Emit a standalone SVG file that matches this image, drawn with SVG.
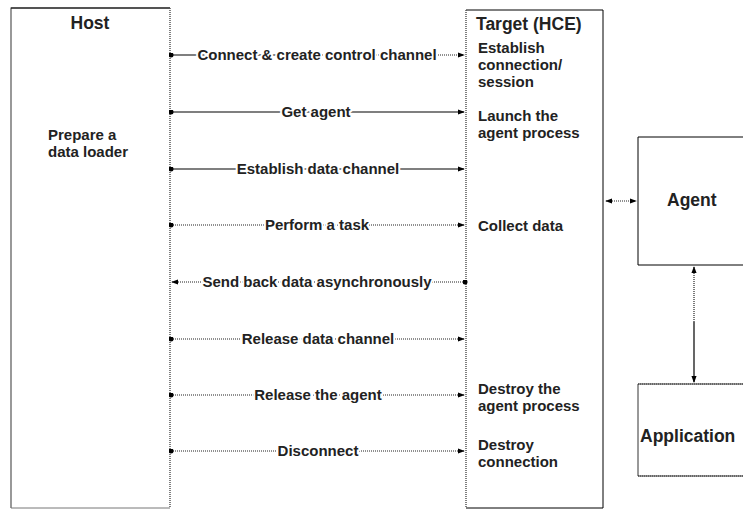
<svg xmlns="http://www.w3.org/2000/svg" width="743" height="509" viewBox="0 0 743 509">
<defs>
<style>
text{font-family:"Liberation Sans",Arial,sans-serif;font-weight:bold;font-size:15px;fill:#222}
.t{font-size:17.5px}
.lbl{text-anchor:middle;stroke:#fff;stroke-width:4px;paint-order:stroke;stroke-linejoin:round}
.solid{stroke:#000;stroke-width:1.2;fill:none}
.dot{stroke:#222;stroke-width:1.2;stroke-dasharray:1 1;fill:none}
.box{fill:#fff;stroke:#000;stroke-width:1}
</style>
<marker id="ah" viewBox="0 0 8 8" refX="7" refY="4" markerWidth="7" markerHeight="7" markerUnits="userSpaceOnUse" orient="auto-start-reverse"><path d="M0,1 L8,4 L0,7 z" fill="#000"/></marker>
<marker id="dt" viewBox="0 0 6 6" refX="3" refY="3" markerWidth="5" markerHeight="5" markerUnits="userSpaceOnUse"><circle cx="3" cy="3" r="3" fill="#000"/></marker>
</defs>
<rect width="743" height="509" fill="#fff"/>
<g id="host">
<path d="M11,508 V8 H170" fill="none" stroke="#555" stroke-width="1.2"/>
<path d="M11,8 H170" fill="none" stroke="#000" stroke-width="1.2"/>
<path d="M11,508 H170" fill="none" stroke="#777" stroke-width="1"/>
<line x1="170" y1="8" x2="170" y2="508" stroke="#555" stroke-width="1.5" stroke-dasharray="1 1"/>
<text class="t" x="90" y="29" text-anchor="middle">Host</text>
<text x="48" y="140">Prepare a</text>
<text x="48" y="157">data loader</text>
</g>
<g id="target">
<path d="M466,10 H603 V508 H466" fill="none" stroke="#000" stroke-width="1"/>
<line x1="466" y1="10" x2="466" y2="508" stroke="#555" stroke-width="1.5" stroke-dasharray="1 1"/>
<text class="t" x="476" y="30">Target (HCE)</text>
<text x="478" y="53">Establish</text>
<text x="478" y="70">connection/</text>
<text x="478" y="87">session</text>
<text x="478" y="121">Launch the</text>
<text x="478" y="138">agent process</text>
<text x="478" y="231">Collect data</text>
<text x="478" y="394">Destroy the</text>
<text x="478" y="411">agent process</text>
<text x="478" y="450">Destroy</text>
<text x="478" y="467">connection</text>
</g>
<g id="agent">
<path d="M743,137 H638 V265 H743" class="box"/>
<text class="t" x="667" y="206">Agent</text>
</g>
<g id="application">
<path d="M743,384 H638 V476 H743" fill="#fff" stroke="#333" stroke-width="1"/>
<path d="M638,384 H743 M638,476 H743" stroke="#333" stroke-width="1" stroke-dasharray="1 1"/>
<text class="t" x="640" y="442">Application</text>
</g>
<g id="connectors">
<path d="M171,55 H300" class="solid" marker-start="url(#dt)"/>
<path d="M300,55 H464" class="dot" marker-end="url(#ah)"/>
<text class="lbl" x="317" y="60">Connect &amp; create control channel</text>
<path d="M171,112 H464" class="solid" marker-start="url(#dt)" marker-end="url(#ah)"/>
<text class="lbl" x="316" y="117">Get agent</text>
<path d="M171,169 H464" class="solid" marker-start="url(#dt)" marker-end="url(#ah)"/>
<text class="lbl" x="318" y="174">Establish data channel</text>
<path d="M171,225 H464" class="dot" marker-start="url(#dt)" marker-end="url(#ah)"/>
<text class="lbl" x="317" y="230">Perform a task</text>
<path d="M465,282 H172" class="dot" marker-start="url(#dt)" marker-end="url(#ah)"/>
<text class="lbl" x="317" y="287">Send back data asynchronously</text>
<path d="M171,339 H464" class="dot" marker-start="url(#dt)" marker-end="url(#ah)"/>
<text class="lbl" x="318" y="344">Release data channel</text>
<path d="M171,395 H464" class="dot" marker-start="url(#dt)" marker-end="url(#ah)"/>
<text class="lbl" x="318" y="400">Release the agent</text>
<path d="M171,451 H464" class="dot" marker-start="url(#dt)" marker-end="url(#ah)"/>
<text class="lbl" x="318" y="456">Disconnect</text>
<path d="M606,201 H636" class="dot" marker-start="url(#ah)" marker-end="url(#ah)"/>
<path d="M694,267 V322" class="dot" marker-start="url(#ah)"/>
<path d="M694,322 V382" class="solid" marker-end="url(#ah)"/>
</g>
</svg>
